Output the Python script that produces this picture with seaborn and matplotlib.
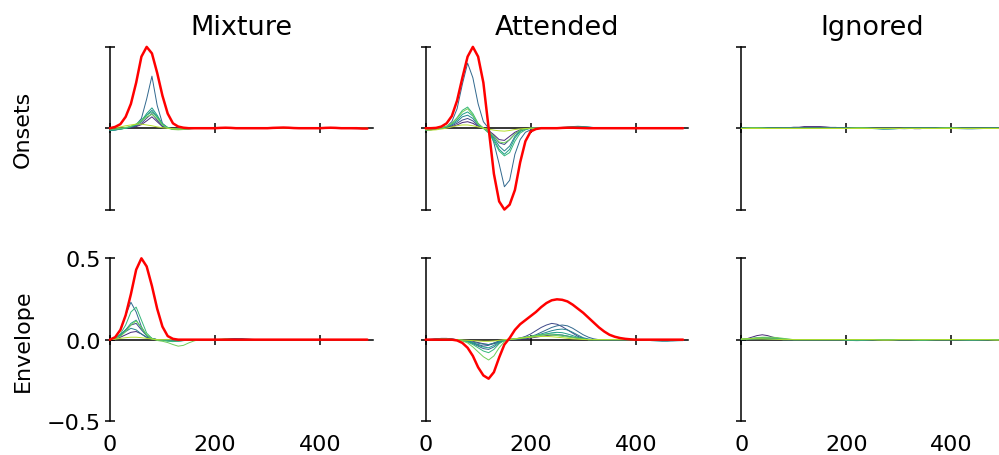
import numpy as np
import pandas as pd
import seaborn as sns
import matplotlib.pyplot as plt

lags = [0, 10, 20, 30, 40, 50, 60, 70, 80, 90, 100, 110, 120, 130, 140, 150, 160, 170, 180, 190,
        200, 210, 220, 230, 240, 250, 260, 270, 280, 290, 300, 310, 320, 330, 340, 350, 360, 370, 380, 390,
        400, 410, 420, 430, 440, 450, 460, 470, 480, 490]
bands = ['b0', 'b1', 'b2', 'b3', 'b4', 'b5', 'b6', 'b7']
columns = ['Mixture', 'Attended', 'Ignored']
rows = ['Onsets', 'Envelope']

# red curves (no red curve in the Ignored column)
mix_onset_red = [0, 0.008, 0.025, 0.07, 0.15, 0.28, 0.44, 0.5, 0.46, 0.34,
                 0.2, 0.09, 0.03, 0.01, 0.003, 0, 0, 0, 0, 0,
                 0, 0.002, 0.003, 0.002, 0, 0, 0, 0, 0, 0,
                 0, 0.002, 0.003, 0.004, 0.003, 0.001, 0, 0, 0, 0,
                 0, 0.002, 0.003, 0.002, 0, 0, 0, 0, -0.002, -0.002]
att_onset_red = [0, 0, 0.002, 0.01, 0.03, 0.075, 0.17, 0.31, 0.44, 0.5,
                 0.44, 0.28, 0, -0.28, -0.45, -0.5, -0.47, -0.38, -0.21, -0.08,
                 -0.02, -0.005, 0, 0, 0, 0, 0.002, 0.003, 0.003, 0.002,
                 0.001, 0, 0, 0, 0, 0, 0, 0, 0, 0,
                 0, 0, 0, 0, 0, 0, 0, 0, 0, 0]
mix_env_red = [0, 0.015, 0.06, 0.15, 0.28, 0.43, 0.5, 0.45, 0.33, 0.19,
               0.08, 0.022, 0.005, 0, 0, 0, 0, 0, 0, 0,
               0, 0, 0, 0, 0, 0, 0, 0, 0, 0,
               0, 0, 0, 0, 0, 0, 0, 0, 0, 0,
               0, 0, 0, 0, 0, 0, 0, 0, 0, 0]
att_env_red = [0, 0, 0, 0, 0, 0, -0.005, -0.02, -0.05, -0.1,
               -0.17, -0.22, -0.24, -0.2, -0.11, -0.03, 0.01, 0.06, 0.095, 0.12,
               0.145, 0.17, 0.2, 0.225, 0.242, 0.248, 0.245, 0.235, 0.215, 0.19,
               0.165, 0.135, 0.105, 0.075, 0.05, 0.03, 0.018, 0.01, 0.005, 0.002,
               0, 0, 0, 0, 0, 0, 0, 0, 0, 0]

# thin lines, one per band
mix_onset_bands = [
    [-0.005, -0.005, -0.002, 0, 0.004, 0.01, 0.022, 0.045, 0.07, 0.04,
     0.01, 0, -0.003, -0.003, -0.002, 0, 0, 0, 0, 0,
     0, 0.002, 0.003, 0.002, 0, 0, 0, 0, 0, 0,
     0, 0, 0.002, 0.003, 0.002, 0, 0, 0, 0, 0,
     0, 0, 0, 0, 0, 0, -0.002, -0.003, -0.002, 0],
    [-0.01, -0.008, -0.003, 0, 0.005, 0.014, 0.03, 0.062, 0.09, 0.05,
     0.012, 0, -0.003, -0.004, -0.002, 0, 0, 0, 0, 0,
     0, 0, 0.002, 0.002, 0, 0, 0, 0, 0, 0,
     0, 0, 0, 0.002, 0.003, 0.002, 0, 0, 0, 0,
     0, 0, 0, 0, 0, 0, 0, 0, 0, 0],
    [-0.012, -0.01, -0.005, 0, 0.008, 0.02, 0.06, 0.18, 0.32, 0.14,
     0.03, 0.003, -0.003, -0.003, -0.002, 0, 0, 0, 0, 0,
     0, 0, 0.003, 0.004, 0.002, 0, 0, 0, 0, 0,
     0, 0.002, 0.003, 0.002, 0, 0, 0, 0, 0, 0,
     0, 0, 0, 0, 0, 0, 0, -0.002, -0.002, 0],
    [-0.015, -0.012, -0.005, 0, 0.01, 0.02, 0.04, 0.08, 0.11, 0.07,
     0.02, 0, -0.005, -0.004, -0.002, 0, 0, 0, 0, 0,
     0, 0, 0, 0.002, 0.003, 0.002, 0, 0, 0, 0,
     0, 0, 0, 0, 0, 0, 0, 0, 0, 0,
     0, 0, 0, 0.002, 0.002, 0, 0, 0, 0, 0],
    [-0.015, -0.01, -0.005, 0, 0.01, 0.02, 0.045, 0.09, 0.125, 0.08,
     0.025, 0.003, -0.005, -0.005, -0.003, 0, 0, 0, 0, 0,
     0, 0, 0, 0, 0, 0.002, 0.003, 0.002, 0, 0,
     0, 0, 0, 0, 0, 0, 0, 0, 0, 0,
     0, 0, 0, 0, 0, 0, 0, 0, 0, 0],
    [-0.01, -0.008, -0.004, 0, 0.01, 0.025, 0.05, 0.08, 0.1, 0.07,
     0.025, 0.005, -0.005, -0.008, -0.008, -0.005, -0.002, 0, 0, 0,
     0, 0, 0, 0, 0, 0, 0, 0, 0, 0,
     0, 0, 0, 0, 0, 0, 0, 0, 0, 0,
     0, 0, 0, 0, 0, 0, 0, 0, 0, 0],
    [-0.005, -0.005, 0, 0.005, 0.012, 0.025, 0.045, 0.07, 0.085, 0.06,
     0.02, 0, -0.008, -0.01, -0.008, -0.004, 0, 0, 0, 0,
     0, 0, 0, 0, 0, 0, 0, 0, 0, 0,
     0, 0, 0, 0, 0, 0, 0, 0, 0, 0,
     0, 0, 0, 0, 0, 0, 0, 0, 0, 0],
    [0, 0.003, 0.008, 0.015, 0.02, 0.025, 0.025, 0.02, 0.015, 0.008,
     0.003, 0, -0.003, -0.005, -0.003, 0, 0, 0, 0, 0,
     0, 0, 0, 0, 0, 0, 0, 0, 0, 0,
     0, 0, 0, 0, 0, 0, 0, 0, 0, 0,
     0, 0, 0, 0, 0, 0, 0, 0, 0, 0],
]

att_onset_bands = [
    [-0.005, -0.005, 0, 0, 0.005, 0.01, 0.02, 0.035, 0.04, 0.03,
     0.012, 0, -0.015, -0.04, -0.07, -0.075, -0.05, -0.025, -0.01, -0.003,
     0, 0, 0, 0, 0, 0, 0, 0, 0, 0,
     0.003, 0.004, 0.002, 0, 0, 0, 0, 0, 0, 0,
     0, 0, 0, 0, 0, 0, 0, 0, 0, 0],
    [-0.008, -0.006, -0.002, 0, 0.006, 0.015, 0.03, 0.05, 0.06, 0.045,
     0.015, 0, -0.02, -0.05, -0.09, -0.1, -0.07, -0.035, -0.012, -0.004,
     0, 0, 0, 0, 0, 0, 0, 0, 0, 0,
     0, 0, 0, 0, 0, 0, 0, 0, 0, 0,
     0, 0, 0, 0, 0, 0, 0, 0, 0, 0],
    [-0.01, -0.01, -0.005, 0, 0.01, 0.04, 0.12, 0.27, 0.4, 0.31,
     0.15, 0.04, 0, -0.09, -0.22, -0.36, -0.32, -0.16, -0.07, -0.025,
     -0.01, 0, 0, 0, 0, 0, 0, 0, 0.002, 0.004,
     0.004, 0.002, 0, 0, 0, 0, 0, 0, 0, 0,
     0, 0, 0, 0, 0, 0, 0, 0, 0, 0],
    [-0.01, -0.008, -0.003, 0, 0.008, 0.02, 0.04, 0.07, 0.08, 0.06,
     0.02, 0, -0.02, -0.06, -0.11, -0.14, -0.11, -0.05, -0.015, -0.005,
     0, 0, 0, 0, 0, 0, 0.002, 0.005, 0.008, 0.01,
     0.01, 0.008, 0.004, 0, 0, 0, 0, 0, 0, 0,
     0, 0, 0, 0, 0, 0, 0, 0, 0, 0],
    [-0.012, -0.01, -0.004, 0, 0.01, 0.025, 0.05, 0.085, 0.1, 0.075,
     0.025, 0, -0.025, -0.07, -0.13, -0.16, -0.13, -0.06, -0.02, -0.006,
     0, 0, 0, 0, 0, 0.002, 0.005, 0.008, 0.01, 0.012,
     0.01, 0.006, 0.003, 0, 0, 0, 0, 0, 0, 0,
     0, 0, 0, 0, 0, 0, 0, 0, 0, 0],
    [-0.01, -0.008, -0.003, 0.002, 0.012, 0.03, 0.065, 0.11, 0.13, 0.09,
     0.03, 0, -0.03, -0.08, -0.14, -0.17, -0.15, -0.08, -0.03, -0.01,
     0, 0, 0, 0, 0, 0, 0, 0, 0, 0,
     0, 0, 0, 0, 0, 0, 0, 0, 0, 0,
     0, 0, 0, 0, 0, 0, 0, 0, 0, 0],
    [-0.008, -0.006, -0.002, 0.003, 0.012, 0.03, 0.06, 0.1, 0.12, 0.08,
     0.025, 0, -0.02, -0.05, -0.085, -0.09, -0.07, -0.035, -0.012, -0.004,
     0, 0, 0, 0, 0, 0, 0, 0, 0, 0,
     0, 0, 0, 0, 0, 0, 0, 0, 0, 0,
     0, 0, 0, 0, 0, 0, 0, 0, 0, 0],
    [-0.01, -0.012, -0.01, -0.005, 0, 0.008, 0.015, 0.02, 0.02, 0.015,
     0.008, 0, -0.006, -0.012, -0.016, -0.018, -0.014, -0.008, -0.004, -0.002,
     0, 0, 0, 0, 0, 0, 0, 0, 0, 0,
     0, 0, 0, 0, 0, 0, 0, 0, 0, 0,
     0, 0, 0, 0, 0, 0, 0, 0, 0, 0],
]

ign_onset_bands = [
    [0, 0, 0, 0, 0, 0, 0, 0, 0, 0.003,
     0.006, 0.006, 0.01, 0.01, 0.01, 0.01, 0.008, 0.005, 0.005, 0.002,
     0, 0, 0, 0, 0, 0, 0, 0, 0, 0,
     0, 0, 0, -0.003, -0.003, 0, 0, 0, 0, 0,
     0, 0, 0, 0, 0, 0, 0, 0, 0, 0],
    [0, 0.002, 0.003, 0.003, 0.002, 0, 0, 0, 0.002, 0.003,
     0.003, 0.002, 0, 0, 0, 0, 0, 0, 0, 0,
     0, 0, 0, 0, 0, 0, -0.002, -0.003, -0.002, 0,
     0, 0, 0, 0, 0, 0, 0, 0, 0, 0,
     0, 0, 0, 0, 0, 0, 0, 0, 0, 0],
    [0, 0, 0.002, 0.003, 0.003, 0.002, 0, 0, 0, 0,
     0, 0, 0, 0, 0, 0, 0, 0, 0, 0,
     0, 0, 0, 0, 0, 0, 0, 0, 0, 0,
     -0.002, -0.003, -0.002, 0, 0, 0, 0, 0, 0, 0,
     0, 0, 0, 0, 0, 0, 0, 0, 0, 0],
    [0, 0, 0, 0, 0, 0, 0, 0, 0, 0,
     0, 0, 0, 0, 0, 0, 0, 0, 0, 0,
     0, 0, 0, 0, 0, 0, -0.002, -0.004, -0.004, -0.003,
     -0.002, 0, 0, 0, 0, 0, 0, 0, 0, 0,
     0, -0.002, -0.003, -0.004, -0.004, -0.003, -0.002, 0, 0, 0],
    [0, 0, 0, 0, 0, 0, 0, 0, 0, 0,
     0, 0, 0, 0, 0, 0, 0, 0, 0, 0,
     0, 0, 0, 0, 0, -0.002, -0.004, -0.005, -0.005, -0.004,
     -0.002, 0, 0, 0, 0, 0, 0, 0, 0, 0,
     0, 0, 0, 0, 0, 0, 0, 0, 0, 0],
    [0, 0, 0, 0, 0, 0, 0, 0, 0, 0,
     0, 0, 0, 0, 0, 0, 0, 0, 0, 0,
     0, 0, 0, 0, 0, 0, 0, 0, 0, 0,
     0, 0, 0, 0, 0, 0, 0, 0, 0, 0,
     0, 0, 0, 0, 0, 0, 0, 0, 0, 0],
    [0, 0.002, 0.003, 0.003, 0.002, 0, 0, 0, 0, 0,
     0, 0, 0, 0, 0, 0, 0, 0, 0, 0,
     0, 0.002, 0.003, 0.003, 0.002, 0, 0, 0, 0, 0,
     0, 0, 0, 0, 0, 0, 0, 0, 0.002, 0.003,
     0.003, 0.002, 0, 0, 0, 0, 0, 0, 0, 0],
    [0, 0, 0, 0, 0, 0, 0, 0, 0, 0,
     0, 0, 0, 0, 0, 0, 0, 0, 0, 0,
     0, 0, 0, 0, 0, 0, 0, 0, 0, 0,
     0, 0, 0, 0, 0, 0, 0, 0, 0, 0,
     0, 0, 0, 0, 0, 0, 0, 0, 0, 0],
]

mix_env_bands = [
    [0, 0.005, 0.015, 0.03, 0.045, 0.05, 0.035, 0.015, 0.005, 0,
     0, -0.003, -0.005, -0.004, -0.002, 0, 0, 0, 0, 0,
     0, 0, 0.004, 0.006, 0.005, 0.002, 0, 0, 0, 0,
     0, 0, 0, 0, 0, 0, 0, 0, 0, 0,
     0, 0, 0, 0, 0, 0, 0, 0, 0, 0],
    [0, 0.01, 0.03, 0.06, 0.09, 0.1, 0.06, 0.025, 0.008, 0,
     0, -0.002, -0.004, -0.004, -0.002, 0, 0, 0, 0, 0,
     0, 0, 0, 0.004, 0.006, 0.004, 0, 0, 0, 0,
     0, 0, 0, 0, 0, 0, 0, 0, 0, 0,
     0, 0, 0, 0, 0, 0, 0, 0, 0, 0],
    [0, 0.015, 0.06, 0.15, 0.23, 0.17, 0.08, 0.025, 0.005, 0,
     -0.002, -0.004, -0.006, -0.008, -0.006, -0.003, 0, 0, 0, 0,
     0, 0, 0, 0, 0.005, 0.007, 0.005, 0.002, 0, 0,
     0, 0, 0, 0, 0, 0, 0, 0, 0, 0,
     0, 0, -0.002, -0.004, -0.004, -0.002, 0, 0, 0, 0],
    [0, 0.01, 0.025, 0.05, 0.07, 0.06, 0.035, 0.012, 0.003, 0,
     0, 0, 0, 0, 0, 0, 0, 0, 0, 0,
     0, 0, 0, 0, 0, 0, 0, 0, 0, 0,
     0, 0, 0, 0, 0, 0, 0, 0, 0, 0,
     0, 0, 0, 0, 0, 0, 0, 0, 0, 0],
    [0, 0.008, 0.03, 0.06, 0.1, 0.12, 0.07, 0.025, 0.005, 0,
     -0.003, -0.006, -0.008, -0.008, -0.005, -0.002, 0, 0, 0, 0,
     0, 0, 0, 0, 0, 0, 0, 0, 0, 0,
     0, 0, 0, 0, 0, 0, 0, 0, 0, 0,
     0, 0, 0, 0, 0, 0, 0, 0, 0, 0],
    [0, 0.01, 0.035, 0.09, 0.17, 0.2, 0.12, 0.04, 0.008, 0,
     -0.005, -0.01, -0.012, -0.01, -0.005, 0, 0, 0, 0, 0,
     0, 0, 0, 0, 0, 0, 0, 0, 0, 0,
     0, 0, 0, 0, 0, 0, 0, 0, 0, 0,
     0, 0, 0, 0, 0, 0, 0, 0, 0, 0],
    [0, 0.005, 0.02, 0.05, 0.09, 0.115, 0.075, 0.03, 0.005, -0.005,
     -0.01, -0.018, -0.03, -0.04, -0.035, -0.02, -0.008, 0, 0, 0,
     0, 0.003, 0.005, 0.003, 0, 0, 0, 0, 0, 0,
     0, 0, 0, 0, 0, 0, 0, 0, 0, 0,
     0, 0, 0, 0, 0, 0, 0, 0, 0, 0],
    [0, 0.003, 0.008, 0.012, 0.015, 0.015, 0.012, 0.008, 0.004, 0,
     0, 0, 0, 0, 0, 0, 0, 0, 0, 0,
     0, 0, 0, 0, 0, 0, 0, 0, 0, 0,
     0, 0, 0, 0, 0, 0, 0, 0, 0, 0,
     0, 0, 0, 0, 0, 0, 0, 0, 0, 0],
]

att_env_bands = [
    [0, 0, 0.002, 0.004, 0.004, 0.002, 0, -0.002, -0.005, -0.01,
     -0.018, -0.025, -0.03, -0.025, -0.015, -0.005, 0, 0, 0.002, 0.005,
     0.01, 0.015, 0.02, 0.025, 0.028, 0.03, 0.028, 0.022, 0.015, 0.008,
     0.003, 0, 0, 0, 0, 0, 0, 0, 0, 0,
     0, 0, 0, 0, 0, 0, 0, 0, 0, 0],
    [0, 0.002, 0.005, 0.008, 0.008, 0.004, 0, -0.004, -0.01, -0.02,
     -0.03, -0.04, -0.035, -0.02, -0.008, 0, 0.002, 0.005, 0.01, 0.02,
     0.035, 0.055, 0.075, 0.09, 0.1, 0.095, 0.08, 0.06, 0.04, 0.02,
     0.008, 0, 0, 0, 0, 0, 0, 0, 0, 0,
     0, 0, 0, 0, 0, 0, 0, 0, 0, 0],
    [0, 0.002, 0.004, 0.006, 0.006, 0.003, 0, -0.004, -0.012, -0.025,
     -0.04, -0.055, -0.06, -0.045, -0.02, -0.005, 0, 0.002, 0.005, 0.012,
     0.02, 0.03, 0.045, 0.06, 0.075, 0.085, 0.09, 0.085, 0.07, 0.05,
     0.03, 0.015, 0.005, 0, 0, 0, 0, 0, 0, 0,
     0, 0, 0, 0, 0, -0.002, -0.004, -0.006, -0.006, -0.006],
    [0, 0, 0.003, 0.005, 0.005, 0.002, 0, -0.003, -0.008, -0.015,
     -0.022, -0.028, -0.03, -0.022, -0.01, 0, 0.002, 0.004, 0.008, 0.012,
     0.018, 0.025, 0.035, 0.045, 0.055, 0.062, 0.065, 0.06, 0.045, 0.028,
     0.012, 0.004, 0, 0, 0, 0, 0, 0, 0, 0,
     0, 0, -0.003, -0.006, -0.008, -0.01, -0.01, -0.008, -0.006, -0.005],
    [0, 0, 0.002, 0.004, 0.004, 0.002, 0, -0.004, -0.01, -0.02,
     -0.035, -0.045, -0.05, -0.035, -0.015, -0.003, 0, 0.003, 0.006, 0.01,
     0.015, 0.02, 0.028, 0.035, 0.042, 0.045, 0.043, 0.035, 0.025, 0.014,
     0.006, 0, 0, 0, 0, 0, 0, 0, 0, 0,
     0, 0, 0, 0, 0, 0, 0, 0, 0, 0],
    [0, 0, 0.002, 0.004, 0.004, 0.002, 0, -0.005, -0.015, -0.03,
     -0.05, -0.07, -0.08, -0.06, -0.025, -0.005, 0, 0.005, 0.01, 0.015,
     0.02, 0.025, 0.03, 0.035, 0.035, 0.032, 0.028, 0.022, 0.016, 0.01,
     0.004, 0, 0, 0, 0, 0, 0, 0, 0, 0,
     0, 0, 0, 0, 0, 0, 0, 0, 0, 0],
    [0, 0, 0.002, 0.003, 0.003, 0, -0.003, -0.008, -0.02, -0.045,
     -0.075, -0.105, -0.125, -0.1, -0.05, -0.012, 0, 0.005, 0.01, 0.015,
     0.02, 0.025, 0.028, 0.03, 0.028, 0.025, 0.02, 0.016, 0.012, 0.008,
     0.004, 0, 0, 0, 0, 0, 0, 0, 0, 0,
     0, 0, 0, 0, 0, 0, 0, 0, 0, 0],
    [0, 0, 0, 0.002, 0.002, 0, 0, -0.002, -0.004, -0.006,
     -0.008, -0.01, -0.01, -0.008, -0.004, 0, 0.002, 0.005, 0.008, 0.012,
     0.015, 0.018, 0.02, 0.02, 0.018, 0.015, 0.012, 0.008, 0.005, 0.003,
     0.001, 0, 0, 0, 0, 0, 0, 0, 0, 0,
     0, 0, 0, 0, 0, 0, 0, 0, 0, 0],
]

ign_env_bands = [
    [0, 0.005, 0.015, 0.025, 0.03, 0.025, 0.015, 0.008, 0.003, 0,
     0, 0, 0, 0, 0, 0, 0, 0, 0, 0,
     -0.002, -0.003, -0.003, -0.002, 0, 0, 0, 0, 0, 0,
     0, 0, 0, 0, 0, 0, 0, 0, 0, 0,
     0, 0, 0, 0, 0, 0, 0, 0, 0, 0],
    [0, 0.003, 0.006, 0.01, 0.012, 0.01, 0.006, 0.003, 0, 0,
     0, 0, 0, 0, 0, 0, 0, 0, 0, 0,
     0, 0, 0, 0, 0, 0, 0, 0, 0, 0,
     0, 0, 0, 0, 0, 0, 0, 0, 0, 0,
     0, 0, 0, 0, 0, 0, 0, 0, 0, 0],
    [0.002, 0.004, 0.006, 0.008, 0.008, 0.006, 0.004, 0.002, 0, 0,
     0, 0, 0, 0, 0, 0, 0, 0, 0, 0,
     0, -0.002, -0.003, -0.003, -0.002, 0, 0, 0, 0, 0,
     0, 0, 0, 0, 0, 0, 0, 0, 0, 0,
     0, 0, 0, 0, 0, 0, 0, 0, 0, 0],
    [0, 0, 0.003, 0.005, 0.006, 0.006, 0.005, 0.003, 0.002, 0,
     0, 0, 0, 0, 0, 0, 0, 0, 0, 0,
     -0.003, -0.005, -0.006, -0.005, -0.003, 0, 0, 0, 0, 0,
     0, 0, 0, 0, 0, 0, 0, 0, 0, 0,
     0, 0, -0.002, -0.004, -0.005, -0.004, -0.002, 0, 0, 0],
    [0.003, 0.004, 0.005, 0.006, 0.006, 0.005, 0.004, 0.002, 0, 0,
     0, 0, 0, 0, 0, 0, 0, 0, 0, 0,
     -0.003, -0.004, -0.004, -0.003, 0, 0, 0, 0, 0, 0,
     0, 0, 0, 0, 0, 0, 0, 0, 0, 0,
     0, 0, 0, 0, 0, 0, 0, 0, 0, 0],
    [0.002, 0.004, 0.008, 0.01, 0.012, 0.012, 0.01, 0.008, 0.005, 0.002,
     0, 0, 0, 0, 0, 0, 0, 0, 0, 0,
     0, 0, 0, 0, 0, 0, 0, 0, 0, 0,
     0, 0, 0, -0.002, -0.004, -0.004, -0.002, 0, 0, 0,
     0, 0, 0, 0, 0, 0, 0, 0, 0, 0],
    [0.003, 0.005, 0.008, 0.012, 0.015, 0.015, 0.015, 0.012, 0.008, 0.004,
     0, 0, 0, 0, 0, 0, 0, 0, 0, 0,
     0, 0, 0, 0, 0, 0, 0, 0, 0, 0,
     0, 0, 0, 0, 0, 0, 0, 0, 0, 0,
     0, 0, 0, 0, 0, 0, 0, 0, 0, 0],
    [0.004, 0.004, 0.005, 0.005, 0.005, 0.004, 0.003, 0.002, 0, 0,
     0, 0, 0, 0, 0, 0, 0, 0, 0, 0,
     0, 0, 0, 0, 0, 0, -0.002, -0.003, -0.003, -0.002,
     0, 0, 0, 0, 0, 0, 0, 0, 0, 0,
     0, 0, 0, 0, 0, 0, 0, 0, -0.002, -0.003],
]

panels = [[(mix_onset_bands, mix_onset_red), (att_onset_bands, att_onset_red), (ign_onset_bands, None)],
          [(mix_env_bands, mix_env_red), (att_env_bands, att_env_red), (ign_env_bands, None)]]

sns.set_style('white')
plt.rcParams['text.color'] = 'black'
plt.rcParams['axes.labelcolor'] = 'black'
plt.rcParams['xtick.color'] = 'black'
plt.rcParams['ytick.color'] = 'black'
palette = sns.color_palette('viridis', len(bands))

fig, axes = plt.subplots(2, 3, figsize=(9.99, 4.56), dpi=100)
plt.subplots_adjust(left=0.110, right=1.005, top=0.895, bottom=0.0746, wspace=0.2015, hspace=0.30)

for r in range(2):
    for c in range(3):
        ax = axes[r, c]
        band_vals, red = panels[r][c]
        for b in band_vals:
            assert len(b) == len(lags)
        df = pd.DataFrame({
            'lag': lags * len(bands),
            'band': np.repeat(bands, len(lags)),
            'value': np.concatenate(band_vals),
        })
        sns.lineplot(data=df, x='lag', y='value', hue='band', palette=palette,
                     linewidth=0.7, legend=False, errorbar=None, ax=ax, zorder=3)
        if red is not None:
            assert len(red) == len(lags)
            sns.lineplot(x=lags, y=red, color='red', linewidth=1.8, ax=ax, zorder=4)
        for line in ax.lines:
            line.set_clip_on(False)

        ax.set_xlim(0, 500)
        ax.set_ylim(-0.5, 0.5)
        ax.set_xticks([0, 200, 400])
        ax.set_yticks([-0.5, 0, 0.5])
        ax.spines['top'].set_visible(False)
        ax.spines['right'].set_visible(False)
        ax.spines['bottom'].set_position(('data', 0))
        for s in ['left', 'bottom']:
            ax.spines[s].set_color('black')
            ax.spines[s].set_linewidth(1.1)
        ax.tick_params(axis='both', direction='inout', length=6.5, width=1.1, color='black',
                       labelcolor='black', labelsize=16, bottom=True, left=True)
        ax.tick_params(axis='x', pad=65, labelbottom=(r == 1))
        ax.tick_params(axis='y', labelleft=(r == 1 and c == 0))
        ax.set_xlabel('')
        ax.set_ylabel('')
        if r == 0:
            ax.set_title(columns[c], fontsize=19.5, pad=9, color='black')
        if c == 0:
            ax.set_ylabel(rows[r], fontsize=16, color='black')
            ax.yaxis.set_label_coords(-0.295, 0.5)

plt.savefig('out.png', dpi=100)
